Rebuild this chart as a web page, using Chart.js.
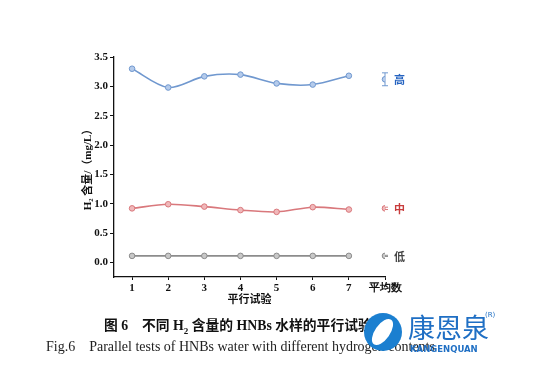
<!DOCTYPE html>
<html>
<head>
<meta charset="utf-8">
<script src="https://cdn.jsdelivr.net/npm/chart.js@4/dist/chart.umd.min.js"></script>
<style>
  html, body { margin: 0; padding: 0; background: #fff; }
  #wrap { position: relative; width: 533px; height: 381px; overflow: hidden; }
  #c { position: absolute; left: 0; top: 0; }
  .cap1 { position: absolute; left: 104px; top: 314px; font-family: "Liberation Serif", "Noto Sans CJK SC", serif; font-weight: bold; font-size: 13.8px; color: #111; white-space: nowrap; }
  .cap2 { position: absolute; left: 46px; top: 339px; font-family: "Liberation Serif", serif; font-size: 14px; color: #222; white-space: nowrap; }
  .logo { position: absolute; left: 364px; top: 313px; width: 38px; height: 38px; border-radius: 50%; background: #1b7fd0; }
  .logo:after { content: ""; position: absolute; left: 11px; top: 4px; width: 15px; height: 30px; border-radius: 50%; background: #fff; transform: rotate(35deg); }
  .brand { position: absolute; left: 408px; top: 307px; font-family: "Noto Sans CJK SC", sans-serif; font-size: 27px; color: #1f6fc4; white-space: nowrap; }
  .brand2 { position: absolute; left: 410px; top: 344px; font-family: "DejaVu Sans", sans-serif; font-weight: bold; font-size: 8.5px; color: #1f6fc4; white-space: nowrap; }
  .reg { position: absolute; left: 485px; top: 311px; font-size: 7px; color: #1f6fc4; font-family: "DejaVu Sans", sans-serif; }
</style>
</head>
<body>
<div id="wrap">
  <canvas id="c" width="533" height="381"></canvas>
  <div class="cap1">图 6&nbsp;&nbsp;&nbsp;&nbsp;不同 H<sub style="font-size:9px">2</sub> 含量的 HNBs 水样的平行试验</div>
  <div class="cap2">Fig.6&nbsp;&nbsp;&nbsp;&nbsp;Parallel tests of HNBs water with different hydrogen contents</div>
  <div class="logo"></div>
  <div class="brand">康恩泉</div>
  <div class="reg">(R)</div>
  <div class="brand2">KANGENQUAN</div>
</div>
<script>
// ---- data ----
const trials = [1, 2, 3, 4, 5, 6, 7];
const highValues = [3.30, 2.98, 3.17, 3.20, 3.05, 3.03, 3.18];
const midValues  = [0.92, 0.99, 0.95, 0.89, 0.86, 0.94, 0.90];
const lowValues  = [0.11, 0.11, 0.11, 0.11, 0.11, 0.11, 0.11];
const averageX = 8;
const averageLabel = '平均数';
const groupNames = ['高', '中', '低'];
const averages = [3.12, 0.92, 0.11];
const errors = [0.11, 0.02, 0.01];
const yTicks = [0, 0.5, 1.0, 1.5, 2.0, 2.5, 3.0, 3.5];
const xTicks = [1, 2, 3, 4, 5, 6, 7, 8];
const yTitle = 'H₂ 含量/（mg/L）';
const xTitle = '平行试验';

const lineColors = ['#7098cf', '#d9787c', '#8c8c8c'];
const fillColors = ['#b5cbeb', '#f0b8ba', '#c8c8c8'];
const labelColors = ['#2563c0', '#c83c3c', '#444444'];

const series = [highValues, midValues, lowValues];
const datasets = [];
series.forEach((vals, i) => {
  datasets.push({
    data: trials.map((t, k) => ({ x: t, y: vals[k] })),
    borderColor: lineColors[i],
    backgroundColor: fillColors[i],
    pointBorderColor: lineColors[i],
    pointBackgroundColor: fillColors[i],
    borderWidth: 1.6,
    pointRadius: 2.8,
    pointBorderWidth: 1,
    tension: 0.3,
    showLine: true
  });
});
averages.forEach((v, i) => {
  datasets.push({
    data: [{ x: averageX, y: v }],
    borderColor: lineColors[i],
    backgroundColor: fillColors[i],
    pointBorderColor: lineColors[i],
    pointBackgroundColor: fillColors[i],
    pointRadius: 2.8,
    pointBorderWidth: 1,
    showLine: false
  });
});

const extrasPlugin = {
  id: 'extras',
  beforeDatasetsDraw(chart) {
    const { ctx, scales: { x, y } } = chart;
    ctx.save();
    averages.forEach((v, i) => {
      const px = x.getPixelForValue(averageX);
      const top = y.getPixelForValue(v + errors[i]);
      const bot = y.getPixelForValue(v - errors[i]);
      ctx.strokeStyle = lineColors[i];
      ctx.lineWidth = 1;
      ctx.beginPath();
      ctx.moveTo(px, top); ctx.lineTo(px, bot);
      ctx.moveTo(px - 3, top); ctx.lineTo(px + 3, top);
      ctx.moveTo(px - 3, bot); ctx.lineTo(px + 3, bot);
      ctx.stroke();
    });
    ctx.restore();
  },
  afterDatasetsDraw(chart) {
    const { ctx, scales: { x, y } } = chart;
    ctx.save();
    ctx.font = 'bold 11px "Noto Sans CJK SC", sans-serif';
    ctx.textBaseline = 'middle';
    ctx.textAlign = 'left';
    averages.forEach((v, i) => {
      ctx.fillStyle = labelColors[i];
      ctx.fillText(groupNames[i], x.getPixelForValue(averageX) + 9, y.getPixelForValue(v) + 0.5);
    });
    ctx.restore();
  }
};

const tickFont = { family: '"Liberation Serif", serif', weight: 'bold', size: 11 };
new Chart(document.getElementById('c'), {
  type: 'scatter',
  data: { datasets },
  plugins: [extrasPlugin],
  options: {
    responsive: false,
    animation: false,
    layout: { padding: { top: 57, right: 148, left: 82, bottom: 76 } },
    plugins: { legend: { display: false }, tooltip: { enabled: false } },
    scales: {
      x: {
        type: 'linear',
        min: 0.5, max: 8,
        afterBuildTicks(s) { s.ticks = xTicks.map(v => ({ value: v })); },
        afterFit(s) { s.height = 28; s.paddingRight = 0; s.paddingLeft = 0; },
        ticks: {
          color: '#111', font: tickFont, padding: 2, maxRotation: 0, autoSkip: false,
          callback: v => (v === averageX ? averageLabel : String(v))
        },
        grid: { display: true, drawOnChartArea: false, drawTicks: true, tickLength: 3, color: '#111' },
        border: { display: true, color: '#111', width: 1.3 },
        title: {
          display: true, text: xTitle, color: '#111',
          font: { family: '"Noto Sans CJK SC", sans-serif', weight: 'bold', size: 11 },
          padding: { top: 0, bottom: 0 }
        }
      },
      y: {
        type: 'linear',
        min: -0.25, max: 3.5,
        afterBuildTicks(s) { s.ticks = yTicks.map(v => ({ value: v })); },
        afterFit(s) { s.width = 32; s.paddingTop = 0; s.paddingBottom = 0; },
        ticks: {
          color: '#111', font: tickFont, padding: 2,
          callback: v => Number(v).toFixed(1)
        },
        grid: { display: true, drawOnChartArea: false, drawTicks: true, tickLength: 4, color: '#111' },
        border: { display: true, color: '#111', width: 1.3 },
        title: {
          display: true, text: yTitle, color: '#111',
          font: { family: '"Liberation Serif", "Noto Sans CJK SC", serif', weight: 'bold', size: 11 },
          padding: { top: 0, bottom: 1 }
        }
      }
    }
  }
});
</script>
</body>
</html>
